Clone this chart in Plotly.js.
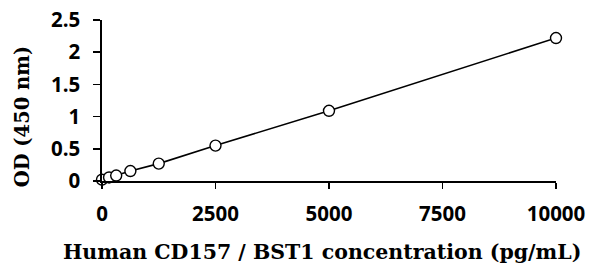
<!DOCTYPE html>
<html><head><meta charset="utf-8">
<script src="https://cdn.plot.ly/plotly-3.0.1.min.js"></script>
<style>html,body{margin:0;padding:0;background:#fff}#c{width:592px;height:269px}</style>
</head><body><div id="c"></div>
<script>
var concentration = [0, 156.25, 312.5, 625, 1250, 2500, 5000, 10000];
var od = [0.02, 0.055, 0.085, 0.155, 0.27, 0.55, 1.09, 2.22];
var xTicks = [0, 2500, 5000, 7500, 10000];
var yTicks = [0, 0.5, 1, 1.5, 2, 2.5];
var yTickText = ['0', '0.5', '1', '1.5', '2', '2.5'];
var xTitle = 'Human CD157 / BST1 concentration (pg/mL)';
var yTitle = 'OD (450 nm)';

var trace = {
  x: concentration, y: od, type: 'scatter', mode: 'lines+markers',
  line: {color: '#000', width: 1.6},
  marker: {symbol: 'circle', size: 11, color: '#fff', line: {color: '#000', width: 1.4}},
  cliponaxis: false, hoverinfo: 'none'
};
var tickFont = {family: 'Open Sans', size: 20.5, color: '#000', weight: 700};
var layout = {
  width: 592, height: 269,
  margin: {l: 102, r: 36, t: 20, b: 88, pad: 0},
  paper_bgcolor: '#fff', plot_bgcolor: '#fff',
  showlegend: false,
  xaxis: {
    range: [0, 10000], tickvals: xTicks, ticktext: xTicks.map(String),
    showgrid: false, zeroline: false, showline: true, linecolor: '#000', linewidth: 1.6,
    ticks: 'outside', ticklen: 6, tickwidth: 1.6, tickcolor: '#000',
    tickfont: tickFont, ticklabelstandoff: 8
  },
  yaxis: {
    range: [0, 2.5], tickvals: yTicks, ticktext: yTickText,
    showgrid: false, zeroline: false, showline: true, linecolor: '#000', linewidth: 1.6,
    ticks: 'outside', ticklen: 7, tickwidth: 1.6, tickcolor: '#000',
    tickfont: tickFont, ticklabelstandoff: 9
  },
  annotations: [{
    text: yTitle, textangle: -90, showarrow: false,
    xref: 'paper', yref: 'paper', x: -0.176, y: 0.396,
    xanchor: 'center', yanchor: 'middle',
    font: {family: 'DejaVu Serif', size: 19.5, color: '#000', weight: 700}
  }, {
    text: xTitle, showarrow: false,
    xref: 'paper', yref: 'paper', x: 0.4835, y: -0.443,
    xanchor: 'center', yanchor: 'middle',
    font: {family: 'DejaVu Serif', size: 20.5, color: '#000', weight: 700}
  }]
};
Plotly.newPlot('c', [trace], layout, {staticPlot: true, displayModeBar: false});
</script></body></html>
